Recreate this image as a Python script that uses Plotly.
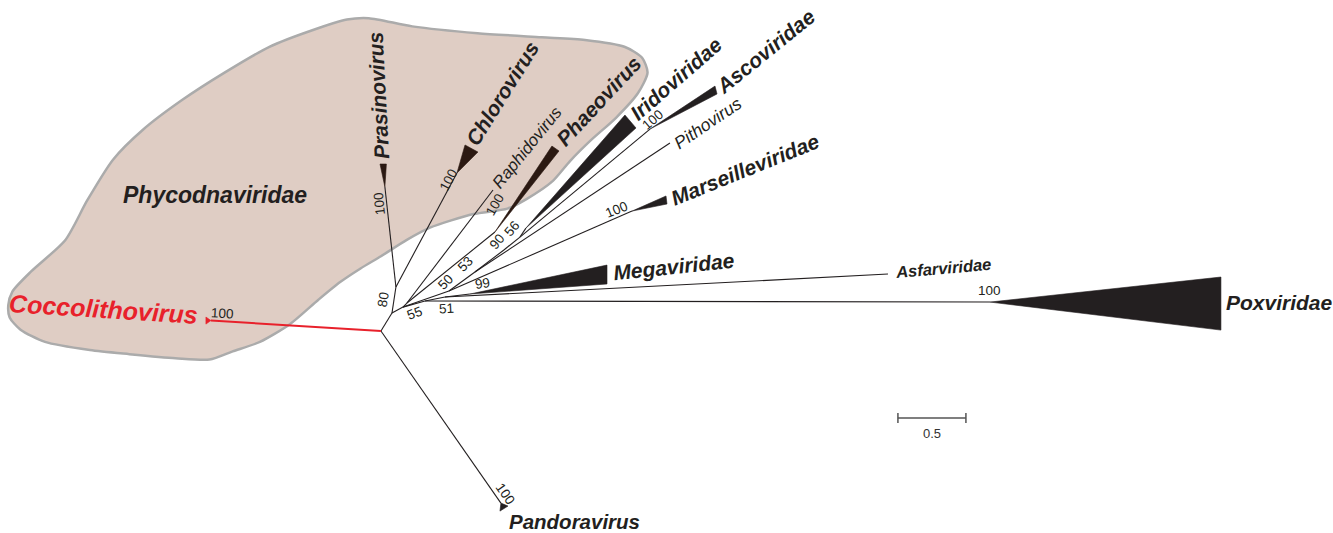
import plotly.graph_objects as go

# ---------------- data (tree drawn in branch-length units, root at origin) ----------------
# internal nodes
node_name = ["R", "A", "B", "C", "D", "E", "H", "G", "F", "I", "J"]
node_parent = [None, "R", "A", "A", "C", "C", "E", "H", "G", "C", "I"]
node_u = [0.000, 0.081, 0.110, 0.162, 0.191, 0.500, 0.691, 0.904, 1.022, 0.324, 0.471]
node_v = [0.000, 0.132, 0.324, 0.176, 0.206, 0.294, 0.434, 0.596, 0.691, 0.221, 0.250]

# leaves / collapsed clades: branch end (apex) and the two far corners of the clade wedge
leaf_name = ["Coccolithovirus", "Pandoravirus", "Prasinovirus", "Chlorovirus", "Raphidovirus",
             "Phaeovirus", "Marseilleviridae", "Pithovirus", "Iridoviridae", "Ascoviridae",
             "Poxviridae", "Megaviridae", "Asfarviridae"]
leaf_parent = ["R", "R", "B", "B", "D", "D", "E", "H", "F", "F", "I", "J", "J"]
leaf_u = [-1.250, 0.882, 0.029, 0.559, 0.824, 0.838, 1.846, 2.125, 1.066, 1.978, 4.478, 0.654, 3.728]
leaf_v = [0.077, -1.265, 1.059, 1.162, 1.037, 0.728, 0.882, 1.382, 0.757, 1.485, 0.213, 0.272, 0.419]
wedge_u1 = [-1.287, 0.875, -0.007, 0.618, None, 1.257, 2.096, None, 1.794, 2.456, 6.176, 1.662, None]
wedge_v1 = [0.103, -1.324, 1.228, 1.368, None, 1.360, 0.993, None, 1.588, 1.801, 0.397, 0.485, None]
wedge_u2 = [-1.287, 0.934, 0.040, 0.713, None, 1.309, 2.103, None, 1.875, 2.471, 6.176, 1.662, None]
wedge_v2 = [0.051, -1.287, 1.228, 1.316, None, 1.324, 0.934, None, 1.493, 1.743, 0.007, 0.346, None]
phyco_members = ["Prasinovirus", "Chlorovirus", "Raphidovirus", "Phaeovirus"]

# taxon labels
label_text = ["Phycodnaviridae", "Coccolithovirus", "Prasinovirus", "Chlorovirus", "Raphidovirus",
              "Phaeovirus", "Iridoviridae", "Ascoviridae", "Pithovirus", "Marseilleviridae",
              "Megaviridae", "Asfarviridae", "Poxviridae", "Pandoravirus"]
label_u = [-1.221, -2.037, -0.022, 0.890, 1.074, 1.596, 2.169, 2.824, 2.404, 2.676, 2.151, 4.132, 6.603, 1.426]
label_v = [1.000, 0.162, 1.735, 1.750, 1.353, 1.691, 1.860, 2.059, 1.533, 1.191, 0.478, 0.463, 0.213, -1.404]
label_angle = [0, 3.6, -93, -58, -51, -47, -41, -39, -34, -22, -6, -5, 0, 0]
label_size = [23, 25, 21, 21, 17, 21, 21, 21, 17.5, 21, 21, 16.5, 21, 20.5]
label_bold = [True, True, True, True, False, True, True, True, False, True, True, True, True, True]

# bootstrap support values
bs_text = ["100", "100", "100", "80", "55", "100", "50", "53", "90", "56", "99", "51", "100", "100", "100", "100"]
bs_u = [-1.162, -0.015, 0.493, 0.015, 0.243, 0.838, 0.471, 0.625, 0.853, 0.963, 0.743, 0.485, 2.000, 1.735, 4.471, 0.919]
bs_v = [0.132, 0.941, 1.110, 0.235, 0.132, 0.934, 0.360, 0.493, 0.662, 0.757, 0.346, 0.169, 1.559, 0.897, 0.301, -1.199]
bs_angle = [3, -96, -62, -81, -20, -60, -45, -45, -50, -50, -8, -3, -40, -22, 0, 55]

# Phycodnaviridae highlight outline
blob_u = [-2.74, -2.71, -2.57, -2.32, -2.16, -1.97, -1.75, -1.46, -1.15, -0.82, -0.51, -0.25, -0.09, 0.23,
          0.71, 1.18, 1.50, 1.79, 1.92, 1.96, 1.89, 1.73, 1.54, 1.39, 1.26, 1.07, 0.93, 0.68, 0.36, 0.19,
          0.00, -0.15, -0.30, -0.46, -0.67, -0.89, -1.09, -1.26, -1.51, -1.85, -2.14, -2.47, -2.65, -2.73]
blob_v = [0.19, 0.29, 0.44, 0.67, 0.96, 1.26, 1.48, 1.70, 1.90, 2.09, 2.21, 2.29, 2.30, 2.24,
          2.19, 2.16, 2.14, 2.09, 2.01, 1.90, 1.75, 1.57, 1.40, 1.25, 1.10, 0.97, 0.90, 0.86, 0.76, 0.67,
          0.55, 0.46, 0.36, 0.23, 0.05, -0.08, -0.15, -0.21, -0.20, -0.17, -0.14, -0.08, 0.01, 0.10]

# scale bar
scale_len = 0.5
scale_u0 = 3.801
scale_v = -0.640
scale_label = "0.5"

# ---------------- styling ----------------
BLACK = "#231f20"
BROWN = "#2b1912"
RED = "#e8212b"
FONT = "Liberation Sans, Arial, Helvetica, sans-serif"

pos = {n: (u, v) for n, u, v in zip(node_name, node_u, node_v)}

fig = go.Figure()

# highlight region
fig.add_trace(go.Scatter(
    x=blob_u + [blob_u[0]], y=blob_v + [blob_v[0]], mode="lines", fill="toself",
    fillcolor="#dfcdc4", line=dict(color="#ababab", width=2.5, shape="spline", smoothing=0.7),
    hoverinfo="skip"))

# branches
bx, by = [], []
for n, p in zip(node_name, node_parent):
    if p is None:
        continue
    bx += [pos[p][0], pos[n][0], None]
    by += [pos[p][1], pos[n][1], None]
rx, ry = [], []
for name, p, u, v in zip(leaf_name, leaf_parent, leaf_u, leaf_v):
    if name == "Coccolithovirus":
        rx += [pos[p][0], u, None]
        ry += [pos[p][1], v, None]
    else:
        bx += [pos[p][0], u, None]
        by += [pos[p][1], v, None]
fig.add_trace(go.Scatter(x=bx, y=by, mode="lines", line=dict(color=BLACK, width=1.1), hoverinfo="skip"))
fig.add_trace(go.Scatter(x=rx, y=ry, mode="lines", line=dict(color=RED, width=2), hoverinfo="skip"))

# collapsed clade wedges
for i, name in enumerate(leaf_name):
    if wedge_u1[i] is None:
        continue
    col = RED if name == "Coccolithovirus" else (BROWN if name in phyco_members else BLACK)
    fig.add_trace(go.Scatter(
        x=[leaf_u[i], wedge_u1[i], wedge_u2[i], leaf_u[i]],
        y=[leaf_v[i], wedge_v1[i], wedge_v2[i], leaf_v[i]],
        mode="lines", fill="toself", fillcolor=col, line=dict(color=col, width=0.6),
        hoverinfo="skip"))

# scale bar
tick = 0.037
fig.add_trace(go.Scatter(
    x=[scale_u0, scale_u0 + scale_len, None, scale_u0, scale_u0, None, scale_u0 + scale_len, scale_u0 + scale_len],
    y=[scale_v, scale_v, None, scale_v - tick, scale_v + tick, None, scale_v - tick, scale_v + tick],
    mode="lines", line=dict(color="#555555", width=1.5), hoverinfo="skip"))

annotations = []
for t, u, v, a, s, b in zip(label_text, label_u, label_v, label_angle, label_size, label_bold):
    col = RED if t == "Coccolithovirus" else BLACK
    txt = f"<b><i>{t}</i></b>" if b else f"<i>{t}</i>"
    annotations.append(dict(x=u, y=v, xref="x", yref="y", text=txt, showarrow=False,
                            textangle=a, xanchor="center", yanchor="middle",
                            font=dict(family=FONT, size=s, color=col)))
for t, u, v, a in zip(bs_text, bs_u, bs_v, bs_angle):
    annotations.append(dict(x=u, y=v, xref="x", yref="y", text=t, showarrow=False,
                            textangle=a, xanchor="center", yanchor="middle",
                            font=dict(family=FONT, size=13.5, color=BLACK)))
annotations.append(dict(x=scale_u0 + scale_len / 2, y=scale_v - 0.11, xref="x", yref="y",
                        text=scale_label, showarrow=False, xanchor="center", yanchor="middle",
                        font=dict(family=FONT, size=13, color="#333333")))

fig.update_layout(
    width=1333, height=533, margin=dict(l=0, r=0, t=0, b=0),
    paper_bgcolor="white", plot_bgcolor="white", showlegend=False,
    xaxis=dict(range=[-2.801, 7.0], visible=False, fixedrange=True),
    yaxis=dict(range=[-1.485, 2.434], visible=False, fixedrange=True),
    annotations=annotations,
)

fig.write_html("out.html", config={"displayModeBar": False},
               post_script="document.body.style.margin='0';")
